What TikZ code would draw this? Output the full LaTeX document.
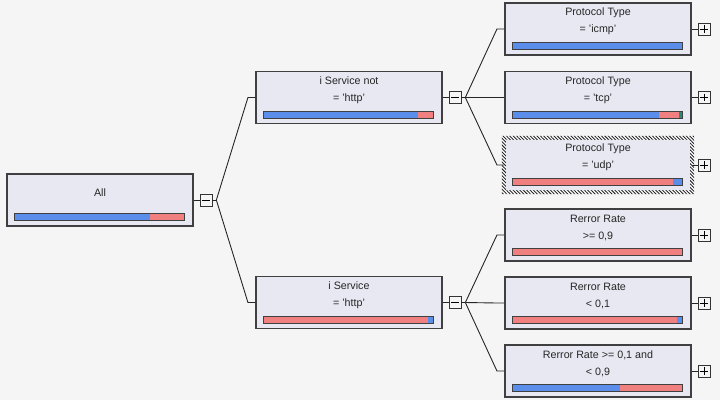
\documentclass[tikz,border=0pt]{standalone}
\usepackage{fontspec}
\setmainfont{Liberation Sans}
\usetikzlibrary{positioning,patterns.meta}

\definecolor{bgGray}{HTML}{F5F5F5}
\definecolor{boxFill}{HTML}{E8E8F2}
\definecolor{boxBorder}{HTML}{404040}
\definecolor{barBlue}{HTML}{5B8DEB}
\definecolor{barRed}{HTML}{F08080}
\definecolor{barTeal}{HTML}{2A8A7A}

\begin{document}
\begin{tikzpicture}
[x=1pt,y=-1pt,
  boxDecorate/.style={shape=rectangle,draw=boxBorder,fill=boxFill,line width=1.1pt,
    minimum width=186pt,minimum height=52pt,inner sep=0pt},%
  toggleDecorate/.style={shape=rectangle,draw=black!80,fill=bgGray,line width=0.8pt,
    minimum size=12pt,inner sep=0pt},%
  lineDecorate/.style={-,line width=0.9pt,draw=black!85},%
  labelDecorate/.style={align=center,inner sep=0pt,text=black!85,
    font=\fontsize{10.7}{17}\selectfont},%
  barDecorate/.style={draw=boxBorder,line width=0.9pt}]
\useasboundingbox[fill=bgGray] (0,0) rectangle (720,400);

%% nodes or boxes
\foreach \nodename/\x/\y in {
  all/100/200, snot/349/97.5, shttp/349/302.5,
  icmp/598/29, tcp/598/97.5, udp/598/165,
  rhi/598/235, rlo/598/303, rmid/598/371}
{
  \node (\nodename) at (\x,\y) [boxDecorate] {};
}

%% selected box
\fill[white,even odd rule]
  ([xshift=-2.5pt,yshift=2.5pt]udp.north west) rectangle ([xshift=2.5pt,yshift=-2.5pt]udp.south east)
  ([xshift=1.5pt,yshift=-1.5pt]udp.north west) rectangle ([xshift=-1.5pt,yshift=1.5pt]udp.south east);
\fill[pattern={Lines[angle=135,distance=2.4pt,line width=0.9pt]},pattern color=black!85,even odd rule]
  ([xshift=-2.5pt,yshift=2.5pt]udp.north west) rectangle ([xshift=2.5pt,yshift=-2.5pt]udp.south east)
  ([xshift=1.5pt,yshift=-1.5pt]udp.north west) rectangle ([xshift=-1.5pt,yshift=1.5pt]udp.south east);

%% labels
\foreach \nodename/\txt in {
  all/{All}, snot/{i Service not\\= 'http'}, shttp/{i Service\\= 'http'},
  icmp/{Protocol Type\\= 'icmp'}, tcp/{Protocol Type\\= 'tcp'},
  udp/{Protocol Type\\= 'udp'}, rhi/{Rerror Rate\\>= 0,9},
  rlo/{Rerror Rate\\< 0,1}, rmid/{Rerror Rate >= 0,1 and\\< 0,9}}
{
  \node (l\nodename) at ([yshift=7.5pt]\nodename.center) [labelDecorate] {\txt};
}

%% bars: colour / end / colour / end / colour
\foreach \nodename/\ca/\pa/\cb/\pb/\cc in {
  all/barBlue/0.8/barRed/1/barRed, snot/barBlue/0.91/barRed/1/barRed,
  shttp/barRed/0.97/barBlue/1/barBlue, icmp/barBlue/1/barBlue/1/barBlue,
  tcp/barBlue/0.86/barRed/0.978/barTeal, udp/barRed/0.947/barBlue/1/barBlue,
  rhi/barRed/1/barRed/1/barRed, rlo/barRed/0.965/barBlue/1/barBlue,
  rmid/barBlue/0.635/barRed/1/barRed}
{
  \begin{scope}[shift={([xshift=8pt,yshift=6pt]\nodename.south west)},x=170pt,y=1pt]
    \fill[\ca] (0,0) rectangle (\pa,7);
    \fill[\cb] (\pa,0) rectangle (\pb,7);
    \fill[\cc] (\pb,0) rectangle (1,7);
    \draw[barDecorate] (0,0) rectangle (1,7);
  \end{scope}
}

%% toggles
\foreach \nodename in {all,snot,shttp,icmp,tcp,udp,rhi,rlo,rmid}
{
  \node (t\nodename) [toggleDecorate,right=6pt of \nodename] {};
  \draw[lineDecorate] (\nodename.east) -- (t\nodename.west);
  \draw[line width=0.8pt] ([xshift=2.5pt]t\nodename.west) -- ([xshift=-2.5pt]t\nodename.east);
}
\foreach \nodename in {icmp,tcp,udp,rhi,rlo,rmid}
{
  \draw[line width=0.8pt] ([yshift=-2.5pt]t\nodename.north) -- ([yshift=2.5pt]t\nodename.south);
}

%% edges or lines
\foreach \nodename in {all,snot,shttp}
{
  \coordinate (j\nodename) at ([xshift=4pt]t\nodename.east);
  \draw[lineDecorate] (t\nodename.east) -- (j\nodename);
}
\foreach \startnode/\endnode in {
  all/snot, all/shttp, snot/icmp, snot/tcp, snot/udp,
  shttp/rhi, shttp/rlo, shttp/rmid}
{
  \draw[lineDecorate] (j\startnode) -- ([xshift=-7.5pt]\endnode.west) -- (\endnode.west);
}
\end{tikzpicture}
\end{document}
